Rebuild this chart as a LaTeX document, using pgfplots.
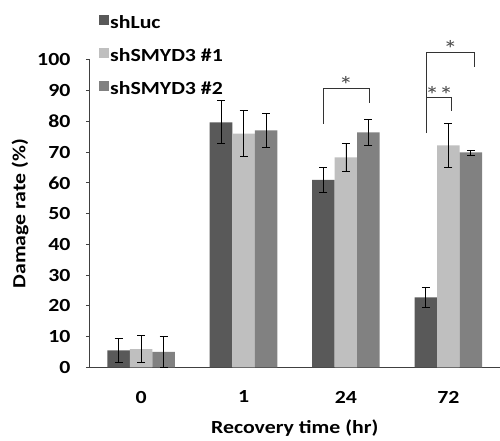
\documentclass[border=0pt]{standalone}
\usepackage{fontspec}
\setmainfont{Carlito}[FakeStretch=1.18]
\usepackage{pgfplots}
\pgfplotsset{compat=1.18}
\definecolor{cA}{HTML}{595959}
\definecolor{cB}{HTML}{BFBFBF}
\definecolor{cC}{HTML}{818181}
\begin{document}
\begin{tikzpicture}
\begin{axis}[
  scale only axis, width=410pt, height=307.7pt,
  xmin=-0.5, xmax=3.5, ymin=0, ymax=100,
  axis x line*=bottom, axis y line*=left,
  axis line style={black!75, line width=0.9pt},
  clip=false,
  /pgf/number format/assume math mode=true,
  font=\fontsize{18.5}{20}\selectfont\bfseries,
  ytick={0,10,...,100},
  xtick={0,1,2,3}, xticklabels={0,1,24,72},
  major x tick style={draw=none},
  extra x ticks={-0.5,0.5,1.5,2.5},
  extra x tick labels={},
  extra x tick style={major tick length=5pt, tick style={black!75, line width=0.9pt}},
  tick align=outside, major tick length=4pt,
  tick style={black!75, line width=0.9pt},
  ytick pos=left,
  yticklabel style={xshift=-12pt},
  xticklabel style={yshift=-16pt},
  xlabel={Recovery time (hr)},
  ylabel={Damage rate (\%)},
  xlabel style={at={(axis description cs:0.5,0)}, anchor=center, yshift=-61pt},
  ylabel style={at={(axis description cs:0,0.5)}, anchor=center, yshift=70pt},
  legend style={draw=none, fill=none, at={(axis description cs:0.022,1.147)}, anchor=north west,
    inner sep=0pt, font=\fontsize{18.5}{20}\selectfont\bfseries,
    nodes={inner sep=1pt, xshift=4pt, text height=13pt, text depth=18pt}},
  legend cell align=left,
  legend image code/.code={\fill[#1] (-4pt,6pt) rectangle (6pt,16pt);},
  error bars/error bar style={black, line width=0.8pt},
  error bars/error mark options={rotate=90, mark size=4pt, black, line width=0.8pt},
]
\addplot[ybar, bar width=0.22, bar shift=0, fill=cA, draw=none,
  error bars/.cd, y dir=both, y explicit]
  coordinates {(-0.22,5.5) +- (0,3.9) (0.78,79.7) +- (0,7) (1.78,61) +- (0,4.1) (2.78,22.8) +- (0,3.2)};
\addplot[ybar, bar width=0.22, bar shift=0, fill=cB, draw=none,
  error bars/.cd, y dir=both, y explicit]
  coordinates {(0,5.9) +- (0,4.4) (1,76) +- (0,7.5) (2,68.3) +- (0,4.4) (3,72.2) +- (0,7.1)};
\addplot[ybar, bar width=0.22, bar shift=0, fill=cC, draw=none,
  error bars/.cd, y dir=both, y explicit]
  coordinates {(0.22,5.0) +- (0,5) (1.22,77.1) +- (0,5.5) (2.22,76.4) +- (0,4.1) (3.22,69.9) +- (0,0.8)};
\legend{shLuc, shSMYD3 \#1, shSMYD3 \#2}
\draw[line width=0.8pt, black!80] (axis cs:1.78,79.2) -- (axis cs:1.78,90.9) -- (axis cs:2.23,90.9) -- (axis cs:2.23,85.9);
\node[font=\fontsize{24}{24}\selectfont, text=black!70, anchor=center] at (axis cs:2.0,92.0) {*};
\draw[line width=0.8pt, black!80] (axis cs:2.79,76.2) -- (axis cs:2.79,102.4) -- (axis cs:3.256,102.4) -- (axis cs:3.256,97.6);
\node[font=\fontsize{24}{24}\selectfont, text=black!70, anchor=center] at (axis cs:3.02,103.6) {*};
\draw[line width=0.8pt, black!80] (axis cs:2.79,87.7) -- (axis cs:3.03,87.7) -- (axis cs:3.03,83.4);
\node[font=\fontsize{24}{24}\selectfont, text=black!70, anchor=center, inner sep=0pt] at (axis cs:2.91,88.6) {**};
\end{axis}
\useasboundingbox (-90pt,-73.3pt) rectangle (410pt,367.7pt);
\end{tikzpicture}
\end{document}
